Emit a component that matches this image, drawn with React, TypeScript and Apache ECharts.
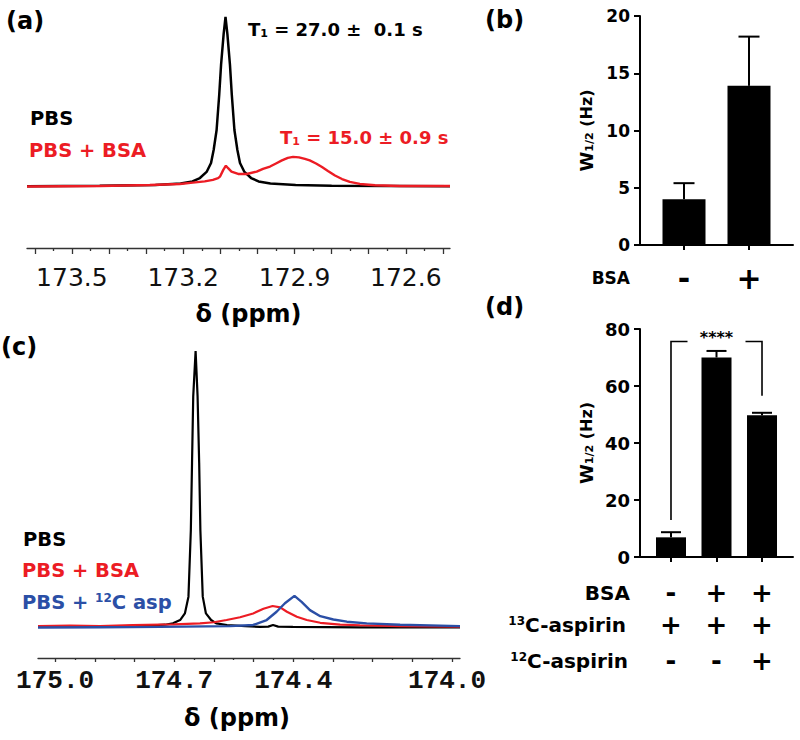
import React, { useEffect, useRef } from "react";
import * as echarts from "echarts";

const SANS = "DejaVu Sans";
const MONO = "Liberation Mono";
const RED = "#ec1c24";
const BLUE = "#2b4fa6";

// ---------- Panel (a): spectra as [ppm, normalized intensity] ----------
const pbsA = [
  [173.621, -0.002], [173.425, 0.001], [173.275, 0.006], [173.207, 0.015], [173.175, 0.027],
  [173.155, 0.047], [173.137, 0.083], [173.125, 0.136], [173.118, 0.213], [173.11, 0.331],
  [173.103, 0.538], [173.098, 0.716], [173.091, 0.9], [173.086, 1.0], [173.081, 0.9],
  [173.074, 0.716], [173.069, 0.538], [173.062, 0.331], [173.054, 0.213], [173.047, 0.136],
  [173.035, 0.083], [173.017, 0.047], [172.997, 0.027], [172.965, 0.015], [172.897, 0.006],
  [172.8, 0.001], [172.481, -0.002],
];
const bsaA = [
  [173.621, -0.003], [173.425, 0.0], [173.29, 0.006], [173.209, 0.012], [173.174, 0.02],
  [173.142, 0.027], [173.12, 0.036], [173.106, 0.046], [173.101, 0.055], [173.092, 0.095],
  [173.085, 0.12], [173.079, 0.105], [173.07, 0.085], [173.052, 0.071], [173.029, 0.071],
  [173.002, 0.085], [172.985, 0.101], [172.966, 0.115], [172.95, 0.133], [172.934, 0.151],
  [172.918, 0.166], [172.904, 0.172], [172.888, 0.169], [172.872, 0.16], [172.859, 0.151],
  [172.842, 0.133], [172.826, 0.112], [172.81, 0.089], [172.791, 0.062], [172.772, 0.041],
  [172.751, 0.024], [172.724, 0.012], [172.683, 0.004], [172.616, 0.0], [172.481, 0.0],
];
const aPpmRange = [172.481, 173.621];
const aIntensityRange = [-0.367, 1.041];
const aMajorTicks = [173.6, 173.5, 173.4, 173.3, 173.2, 173.1, 173.0, 172.9, 172.8, 172.7, 172.6, 172.5];
const aMinorTicks = [173.55, 173.45, 173.35, 173.25, 173.15, 173.05, 172.95, 172.85, 172.75, 172.65, 172.55];
const aTickLabels = [173.5, 173.2, 172.9, 172.6];

// ---------- Panel (c) ----------
const pbsC = [
  [175.043, -0.002], [174.887, -0.002], [174.761, 0.002], [174.723, 0.005], [174.703, 0.01],
  [174.685, 0.022], [174.673, 0.046], [174.664, 0.107], [174.658, 0.349], [174.655, 0.593],
  [174.652, 0.834], [174.646, 1.0], [174.641, 0.834], [174.637, 0.593], [174.634, 0.349],
  [174.628, 0.107], [174.62, 0.046], [174.607, 0.022], [174.594, 0.01], [174.567, 0.004],
  [174.521, 0.0], [174.484, -0.003], [174.463, -0.002], [174.451, 0.004], [174.438, -0.002],
  [174.401, -0.003], [174.232, -0.005], [173.98, -0.005],
];
const bsaC = [
  [175.043, 0.0], [174.962, 0.002], [174.887, 0.0], [174.804, 0.004], [174.7, 0.006],
  [174.635, 0.01], [174.6, 0.014], [174.568, 0.022], [174.534, 0.032], [174.501, 0.046],
  [174.475, 0.063], [174.452, 0.073], [174.433, 0.068], [174.416, 0.052], [174.391, 0.034],
  [174.366, 0.022], [174.332, 0.012], [174.282, 0.005], [174.232, 0.003], [174.131, 0.0],
  [173.98, -0.002],
];
const aspC = [
  [175.043, -0.005], [174.887, -0.004], [174.736, -0.003], [174.559, 0.0], [174.501, 0.004],
  [174.467, 0.022], [174.442, 0.052], [174.421, 0.083], [174.397, 0.11], [174.379, 0.088],
  [174.358, 0.058], [174.332, 0.036], [174.299, 0.024], [174.265, 0.016], [174.215, 0.01],
  [174.131, 0.005], [173.98, 0.0],
];
const cPpmRange = [173.98, 175.043];
const cIntensityRange = [-0.116, 1.04];
const cMajorTicks = [175.0, 174.9, 174.8, 174.7, 174.6, 174.5, 174.4, 174.3, 174.2, 174.1, 174.0];
const cMinorTicks = [174.95, 174.85, 174.75, 174.65, 174.55, 174.45, 174.35, 174.25, 174.15, 174.05];
const cTickLabels = [175.0, 174.7, 174.4, 174.0];
const cEdgeLabel = "174.0";

// ---------- Panel (b) ----------
const groupsB = [1, 2];
const bsaRowB = ["-", "+"];
const w12B = [4.0, 13.9];
const w12ErrB = [1.4, 4.3];
const bGroupRange = [0.323, 2.677];

// ---------- Panel (d) ----------
const groupsD = [1, 2, 3];
const bsaRowD = ["-", "+", "+"];
const c13RowD = ["+", "+", "+"];
const c12RowD = ["-", "-", "+"];
const w12D = [6.9, 70.0, 49.7];
const w12ErrD = [1.8, 2.3, 0.9];
const dGroupRange = [0.319, 3.681];
const sigBracketD = [1, 3, 13.0, 56.6, 75.6];
const sigLabelD = "****";

const errorBarRender = (capHalf: number) => (params: any, api: any) => {
  const x = api.value(0);
  const m = api.value(1);
  const e = api.value(2);
  const p0 = api.coord([x, m]);
  const p1 = api.coord([x, m + e]);
  const style = { stroke: "#000", lineWidth: 2 };
  return {
    type: "group",
    children: [
      { type: "line", shape: { x1: p0[0], y1: p0[1], x2: p1[0], y2: p1[1] }, style },
      { type: "line", shape: { x1: p1[0] - capHalf, y1: p1[1], x2: p1[0] + capHalf, y2: p1[1] }, style },
    ],
  };
};

const bracketRender = (params: any, api: any) => {
  const a = api.coord([api.value(0), api.value(2)]);
  const b = api.coord([api.value(0), api.value(4)]);
  const c = api.coord([api.value(1), api.value(4)]);
  const d = api.coord([api.value(1), api.value(3)]);
  const mid = (b[0] + c[0]) / 2;
  const gap = 29;
  const style = { stroke: "#000", lineWidth: 1.6, fill: "none" };
  return {
    type: "group",
    children: [
      { type: "polyline", shape: { points: [a, b, [mid - gap, b[1]]] }, style },
      { type: "polyline", shape: { points: [[mid + gap, c[1]], c, d] }, style },
      {
        type: "text",
        x: mid,
        y: b[1] - 4,
        style: {
          text: sigLabelD, fill: "#000", fontSize: 16, fontWeight: "bold", fontFamily: SANS,
          align: "center", textAlign: "center", verticalAlign: "middle", textVerticalAlign: "middle",
        },
      },
    ],
  };
};

function label(x: number, y: number, text: string, size: number, fill = "#000", rich?: any) {
  return {
    type: "text",
    x,
    y,
    silent: true,
    style: {
      text, fill, fontSize: size, fontWeight: "bold", fontFamily: SANS,
      align: "left", textAlign: "left", verticalAlign: "middle", textVerticalAlign: "middle",
      rich,
    },
  };
}

function t1Rich(fill: string) {
  return {
    n: { fontSize: 18, fontWeight: "bold", fontFamily: SANS, fill, lineHeight: 18, verticalAlign: "top" },
    s: { fontSize: 11, fontWeight: "bold", fontFamily: SANS, fill, lineHeight: 11, padding: [10, 0, 0, 0], verticalAlign: "bottom" },
  };
}

function rowAxis(grid: number, range: number[], offset: number, values: number[], signs: string[], signSize: number, name: string, nameSize: number, nameGap: number) {
  return {
    gridIndex: grid, type: "value", min: range[0], max: range[1], position: "bottom", offset,
    axisLine: { show: false, onZero: false }, axisTick: { show: false }, splitLine: { show: false },
    axisLabel: {
      customValues: values, formatter: (v: number) => signs[values.indexOf(v)] ?? "",
      margin: 0, verticalAlign: "middle", fontSize: signSize, fontWeight: "bold", fontFamily: SANS, color: "#000",
      hideOverlap: false,
    },
    name, nameLocation: "start", nameGap, nameMoveOverlap: false,
    nameTextStyle: {
      fontSize: nameSize, fontWeight: "bold", fontFamily: SANS, color: "#000", align: "right", verticalAlign: "middle",
      rich: {
        n: { fontSize: nameSize, fontWeight: "bold", fontFamily: SANS, color: "#000", verticalAlign: "bottom" },
        p: { fontSize: 12, fontWeight: "bold", fontFamily: SANS, color: "#000", verticalAlign: "top" },
      },
    },
  };
}

function mainGroupAxis(grid: number, range: number[], values: number[]) {
  return {
    gridIndex: grid, type: "value", min: range[0], max: range[1], position: "bottom",
    axisLine: { show: true, onZero: false, lineStyle: { color: "#000", width: 2 } },
    axisTick: { show: true, customValues: values, length: 5, lineStyle: { color: "#000", width: 2 } },
    axisLabel: { show: false }, splitLine: { show: false },
  };
}

function barYAxis(grid: number, max: number, interval: number, labelSize: number) {
  return {
    gridIndex: grid, type: "value", min: 0, max, interval,
    axisLine: { show: true, onZero: false, lineStyle: { color: "#000", width: 2 } },
    axisTick: { show: true, length: 6, lineStyle: { color: "#000", width: 2 } },
    axisLabel: { margin: 10, fontSize: labelSize, fontWeight: "bold", fontFamily: SANS, color: "#000" },
    splitLine: { show: false },
    name: "{w|W}{s|1/2}{h| (Hz)}", nameLocation: "middle", nameRotate: 90, nameGap: 45, nameMoveOverlap: false,
    nameTextStyle: {
      rich: {
        w: { fontSize: 18, fontWeight: "bold", fontFamily: SANS, color: "#000" },
        s: { fontSize: 11, fontWeight: "bold", fontFamily: SANS, color: "#000", verticalAlign: "bottom" },
        h: { fontSize: 16, fontWeight: "bold", fontFamily: SANS, color: "#000" },
      },
    },
  };
}

function buildOption() {
  const specAxisLine = { onZero: false, lineStyle: { color: "#333", width: 1.3 } };
  return {
    animation: false,
    backgroundColor: "#fff",
    textStyle: { fontFamily: SANS },
    grid: [
      { left: 27, right: 350, top: 10, bottom: 492, containLabel: false, outerBoundsMode: "none" },
      { left: 38, right: 340, top: 340, bottom: 82, containLabel: false, outerBoundsMode: "none" },
      { left: 640, right: 7, top: 16, bottom: 495, containLabel: false, outerBoundsMode: "none" },
      { left: 640, right: 7, top: 329, bottom: 183, containLabel: false, outerBoundsMode: "none" },
    ],
    xAxis: [
      {
        gridIndex: 0, type: "value", inverse: true, min: aPpmRange[0], max: aPpmRange[1], position: "bottom",
        axisLine: specAxisLine,
        axisTick: { customValues: aMajorTicks, length: 6, lineStyle: { color: "#333", width: 1.3 } },
        axisLabel: {
          customValues: aTickLabels, formatter: (v: number) => v.toFixed(1), margin: 17,
          fontSize: 25, fontFamily: SANS, color: "#111", hideOverlap: false,
        },
        splitLine: { show: false },
        name: "δ (ppm)", nameLocation: "middle", nameGap: 54, nameMoveOverlap: false,
        nameTextStyle: { fontSize: 24, fontWeight: "bold", fontFamily: SANS, color: "#000", padding: [0, 0, 0, 20] },
      },
      {
        gridIndex: 0, type: "value", inverse: true, min: aPpmRange[0], max: aPpmRange[1], position: "bottom",
        axisLine: { show: false, onZero: false },
        axisTick: { customValues: aMinorTicks, length: 3, lineStyle: { color: "#333", width: 1.3 } },
        axisLabel: { show: false }, splitLine: { show: false },
      },
      {
        gridIndex: 1, type: "value", inverse: true, min: cPpmRange[0], max: cPpmRange[1], position: "bottom",
        axisLine: specAxisLine,
        axisTick: { customValues: cMajorTicks, length: 4, lineStyle: { color: "#333", width: 1.3 } },
        axisLabel: {
          customValues: cTickLabels,
          formatter: (v: number) => {
            const s = v.toFixed(1);
            return s === cEdgeLabel ? "{r|" + s + "}" : s;
          },
          margin: 10, fontSize: 26, fontWeight: "bold", fontFamily: MONO, color: "#111", hideOverlap: false,
          rich: { r: { fontSize: 26, fontWeight: "bold", fontFamily: MONO, color: "#111", padding: [0, 10, 0, 0] } },
        },
        splitLine: { show: false },
        name: "δ (ppm)", nameLocation: "middle", nameGap: 48, nameMoveOverlap: false,
        nameTextStyle: { fontSize: 24, fontWeight: "bold", fontFamily: SANS, color: "#000", padding: [0, 24, 0, 0] },
      },
      {
        gridIndex: 1, type: "value", inverse: true, min: cPpmRange[0], max: cPpmRange[1], position: "bottom",
        axisLine: { show: false, onZero: false },
        axisTick: { customValues: cMinorTicks, length: 2, lineStyle: { color: "#333", width: 1.3 } },
        axisLabel: { show: false }, splitLine: { show: false },
      },
      mainGroupAxis(2, bGroupRange, groupsB),
      rowAxis(2, bGroupRange, 33, groupsB, bsaRowB, 30, "BSA", 17, 10),
      mainGroupAxis(3, dGroupRange, groupsD),
      rowAxis(3, dGroupRange, 36, groupsD, bsaRowD, 26, "{n|BSA}", 20, 10),
      rowAxis(3, dGroupRange, 68, groupsD, c13RowD, 26, "{p|13}{n|C-aspirin}", 20, 14),
      rowAxis(3, dGroupRange, 104, groupsD, c12RowD, 26, "{p|12}{n|C-aspirin}", 20, 12),
    ],
    yAxis: [
      { gridIndex: 0, type: "value", min: aIntensityRange[0], max: aIntensityRange[1], show: false },
      { gridIndex: 1, type: "value", min: cIntensityRange[0], max: cIntensityRange[1], show: false },
      barYAxis(2, 20, 5, 17),
      barYAxis(3, 80, 20, 18),
    ],
    series: [
      { type: "line", name: "PBS (a)", xAxisIndex: 0, yAxisIndex: 0, data: pbsA, showSymbol: false, lineStyle: { color: "#000", width: 2.5 } },
      { type: "line", name: "PBS + BSA (a)", xAxisIndex: 0, yAxisIndex: 0, data: bsaA, showSymbol: false, lineStyle: { color: RED, width: 2.4 } },
      { type: "line", name: "PBS (c)", xAxisIndex: 2, yAxisIndex: 1, data: pbsC, showSymbol: false, lineStyle: { color: "#000", width: 2.2 } },
      { type: "line", name: "PBS + BSA (c)", xAxisIndex: 2, yAxisIndex: 1, data: bsaC, showSymbol: false, lineStyle: { color: RED, width: 2.2 } },
      { type: "line", name: "PBS + 12C asp (c)", xAxisIndex: 2, yAxisIndex: 1, data: aspC, showSymbol: false, lineStyle: { color: BLUE, width: 2.4 } },
      {
        type: "bar", xAxisIndex: 4, yAxisIndex: 2, barWidth: 43, itemStyle: { color: "#000" },
        data: groupsB.map((g, i) => [g, w12B[i]]),
      },
      {
        type: "custom", xAxisIndex: 4, yAxisIndex: 2, renderItem: errorBarRender(10.5),
        encode: { x: 0, y: 1 }, data: groupsB.map((g, i) => [g, w12B[i], w12ErrB[i]]),
      },
      {
        type: "bar", xAxisIndex: 6, yAxisIndex: 3, barWidth: 30, itemStyle: { color: "#000" },
        data: groupsD.map((g, i) => [g, w12D[i]]),
      },
      {
        type: "custom", xAxisIndex: 6, yAxisIndex: 3, renderItem: errorBarRender(10),
        encode: { x: 0, y: 1 }, data: groupsD.map((g, i) => [g, w12D[i], w12ErrD[i]]),
      },
      {
        type: "custom", xAxisIndex: 6, yAxisIndex: 3, renderItem: bracketRender, clip: false,
        encode: { x: [0, 1], y: [2, 3, 4] }, data: [sigBracketD],
      },
    ],
    graphic: {
      elements: [
        label(6, 21, "(a)", 24),
        label(248, 29.5, "{n|T}{s|1}{n| = 27.0 ±  0.1 s}", 18, "#000", t1Rich("#000")),
        label(30, 118, "PBS", 19.5),
        label(29, 150, "PBS + BSA", 19.5, RED),
        label(280, 137.8, "{n|T}{s|1}{n| = 15.0 ± 0.9 s}", 18, RED, t1Rich(RED)),
        label(485, 20, "(b)", 24),
        label(1, 347, "(c)", 24),
        label(23, 539.5, "PBS", 19.5),
        label(22, 570, "PBS + BSA", 19.5, RED),
        label(22, 602, "{n|PBS + }{p|12}{n|C asp}", 19.5, BLUE, {
          n: { fontSize: 19.5, fontWeight: "bold", fontFamily: SANS, fill: BLUE, verticalAlign: "bottom" },
          p: { fontSize: 12, fontWeight: "bold", fontFamily: SANS, fill: BLUE, verticalAlign: "top" },
        }),
        label(485, 306.5, "(d)", 24),
      ],
    },
  };
}

export default function App() {
  const ref = useRef<HTMLDivElement>(null);
  useEffect(() => {
    if (!ref.current) return;
    const chart = echarts.init(ref.current, null, { renderer: "svg" });
    chart.setOption(buildOption() as any);
    return () => chart.dispose();
  }, []);
  return (
    <div
      ref={ref}
      style={{ position: "fixed", left: 0, top: 0, width: 800, height: 740, background: "#fff" }}
    />
  );
}
